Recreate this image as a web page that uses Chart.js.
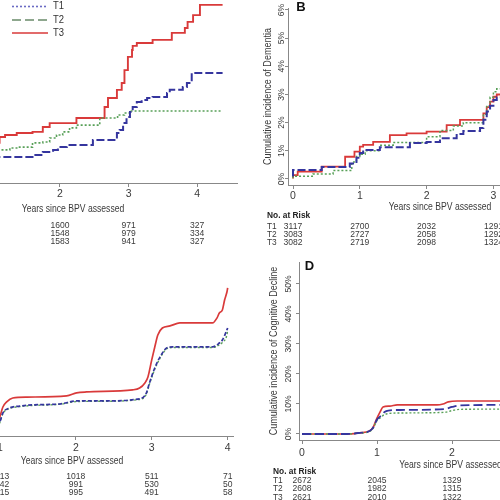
<!DOCTYPE html>
<html>
<head>
<meta charset="utf-8">
<script src="https://cdn.jsdelivr.net/npm/chart.js@4.4.0/dist/chart.umd.min.js"></script>
<style>
html, body { margin: 0; padding: 0; width: 500px; height: 500px; overflow: hidden; background: #fff; }
body { position: relative; }
canvas { position: absolute; }
</style>
</head>
<body>
<canvas id="panelA" width="400" height="260" style="left:-150px;top:-10px"></canvas>
<canvas id="panelB" width="400" height="250" style="left:250px;top:0px"></canvas>
<canvas id="panelC" width="400" height="250" style="left:-150px;top:250px"></canvas>
<canvas id="panelD" width="400" height="250" style="left:250px;top:250px"></canvas>
<script>
const groups = ['T1', 'T2', 'T3'];
const xTicks = [0, 1, 2, 3, 4];

// panel A (years, cumulative %)
const aT1x = [1.06, 1.60, 1.75, 1.90, 1.97, 2.10, 2.48, 2.83, 2.87, 2.92, 2.97, 3.02, 3.06, 3.12, 3.19, 3.27, 3.35, 3.56, 3.60, 3.79, 3.85, 3.92, 3.99, 4.37];
const aT1y = [0.60, 0.71, 0.78, 0.89, 0.96, 1.06, 1.13, 1.31, 1.56, 1.67, 1.91, 2.13, 2.30, 2.48, 2.66, 2.73, 2.80, 2.84, 2.98, 3.09, 3.19, 3.33, 3.69, 3.69];
const aT2x = [1.06, 1.27, 1.41, 1.60, 1.75, 1.85, 1.95, 2.04, 2.14, 2.24, 2.58, 2.84, 2.94, 3.02, 3.09, 4.37];
const aT2y = [0.89, 0.96, 1.03, 1.06, 1.21, 1.24, 1.38, 1.49, 1.60, 1.74, 1.84, 2.09, 2.20, 2.27, 2.34, 2.34];
const aT3x = [1.06, 1.12, 1.20, 1.37, 1.60, 1.75, 1.85, 2.24, 2.65, 2.70, 2.83, 2.90, 2.94, 2.99, 3.05, 3.06, 3.12, 3.35, 3.63, 3.82, 3.86, 3.94, 4.04, 4.11, 4.37];
const aT3y = [1.10, 1.21, 1.42, 1.49, 1.56, 1.60, 1.77, 1.91, 2.09, 2.48, 2.80, 3.09, 3.33, 3.79, 4.26, 4.50, 4.65, 4.75, 4.86, 5.11, 5.28, 5.50, 5.74, 6.10, 6.10];
const aRiskYears = [2, 3, 4];
const aRiskT1 = [1600, 971, 327];
const aRiskT2 = [1548, 979, 334];
const aRiskT3 = [1583, 941, 327];

// panel B - dementia
const bT1x = [0, 0.43, 0.85, 0.95, 1.0, 1.05, 1.30, 1.75, 2.0, 2.2, 2.45, 2.55, 2.8, 2.85, 2.9, 2.95, 3.0, 3.05, 3.1];
const bT1y = [0.09, 0.32, 0.43, 0.55, 0.75, 0.92, 1.03, 1.13, 1.28, 1.31, 1.45, 1.60, 1.70, 1.81, 2.1, 2.4, 2.6, 2.8, 2.9];
const bT2x = [0, 0.3, 0.6, 0.88, 0.95, 1.0, 1.08, 1.3, 1.5, 2.0, 2.2, 2.4, 2.55, 2.85, 2.9, 2.95, 3.0, 3.05, 3.1];
const bT2y = [0.03, 0.1, 0.18, 0.3, 0.6, 0.8, 0.88, 1.0, 1.2, 1.3, 1.5, 1.72, 1.88, 2.0, 2.3, 2.6, 2.9, 3.1, 3.2];
const bT3x = [0, 0.07, 0.43, 0.78, 0.92, 1.0, 1.05, 1.2, 1.45, 1.7, 2.0, 2.3, 2.5, 2.85, 2.9, 2.95, 3.0, 3.05, 3.1];
const bT3y = [0.02, 0.14, 0.26, 0.44, 0.79, 0.97, 1.15, 1.21, 1.32, 1.56, 1.62, 1.68, 1.91, 2.1, 2.33, 2.55, 2.75, 2.92, 3.0];
const bYTicks = [0, 1, 2, 3, 4, 5, 6];
const bRiskYears = [0, 1, 2, 3];
const bRiskT1 = [3117, 2700, 2032, 1291];
const bRiskT2 = [3083, 2727, 2058, 1292];
const bRiskT3 = [3082, 2719, 2098, 1324];

// panel C
const cT1x = [0.97, 1.00, 1.04, 1.13, 1.26, 1.43, 1.79, 2.01, 2.32, 2.84, 2.93, 2.97, 3.04, 3.11, 3.20, 3.28, 3.80, 3.89, 3.93, 3.99, 4.00];
const cT1y = [0.5, 2.0, 5.0, 6.7, 7.3, 7.7, 8.0, 9.0, 9.0, 9.7, 11.7, 15.0, 20.0, 23.7, 26.7, 27.0, 27.0, 28.3, 29.3, 32.7, 33.3];
const cT2x = [0.97, 1.00, 1.04, 1.13, 1.26, 1.43, 1.79, 2.01, 2.32, 2.84, 2.93, 2.97, 3.04, 3.11, 3.20, 3.28, 3.80, 3.89, 3.93, 3.99, 4.00];
const cT2y = [0.4, 1.8, 4.8, 6.5, 7.1, 7.5, 7.9, 8.8, 8.9, 9.5, 11.3, 14.6, 19.6, 23.3, 26.4, 26.8, 26.8, 27.7, 28.5, 31.0, 32.7];
const cT3x = [0.97, 1.00, 1.04, 1.09, 1.17, 1.36, 1.88, 2.01, 2.14, 2.75, 2.84, 2.91, 2.95, 3.00, 3.04, 3.08, 3.14, 3.24, 3.37, 3.80, 3.86, 3.89, 3.93, 3.96, 3.99, 4.00];
const cT3y = [1.5, 3.7, 7.0, 8.7, 10.0, 10.3, 10.7, 11.7, 12.0, 12.7, 13.3, 15.0, 17.0, 22.7, 27.0, 31.0, 33.3, 34.0, 35.0, 35.0, 36.7, 38.3, 39.3, 42.7, 45.3, 46.7];
const cRiskYears = [1, 2, 3, 4];
const cRiskT1 = [1713, 1018, 511, 71];
const cRiskT2 = [1742, 991, 530, 50];
const cRiskT3 = [1715, 995, 491, 58];

// panel D - cognitive decline
const dT1x = [0, 0.6, 0.77, 0.9, 0.95, 1.0, 1.05, 1.1, 1.15, 1.3, 1.9, 2.0, 2.1, 2.7];
const dT1y = [0, 0, 0.4, 1.0, 2.2, 4.8, 6.0, 7.3, 7.8, 8.0, 8.3, 9.0, 9.5, 9.7];
const dT2x = [0, 0.6, 0.77, 0.9, 0.95, 1.0, 1.05, 1.1, 1.15, 1.3, 1.9, 2.0, 2.1, 2.7];
const dT2y = [0, 0, 0.3, 0.8, 2.0, 4.5, 5.5, 6.5, 6.8, 7.0, 7.2, 7.8, 8.2, 8.3];
const dT3x = [0, 0.6, 0.77, 0.9, 0.95, 1.0, 1.04, 1.08, 1.17, 1.27, 1.8, 1.88, 1.95, 2.07, 2.7];
const dT3y = [0, 0, 0.4, 1.0, 2.3, 5.3, 7.3, 9.0, 9.3, 9.7, 9.7, 10.0, 10.7, 11.0, 11.0];
const dYTicks = [0, 10, 20, 30, 40, 50];
const dRiskYears = [0, 1, 2];
const dRiskT1 = [2672, 2045, 1329];
const dRiskT2 = [2608, 1982, 1315];
const dRiskT3 = [2621, 2010, 1322];

const FONT = '"Liberation Sans", Arial, sans-serif';
const lineColors = ['#35359e', '#58a058', '#d93a3a'];

function squeezeText(ctx, str, x, y, font, align, rot, sq)
{
    ctx.save();
    ctx.translate(x, y);
    if (rot) ctx.rotate(rot);
    ctx.scale(sq || 0.88, 1);
    ctx.font = font;
    ctx.textAlign = align || 'center';
    ctx.textBaseline = 'middle';
    ctx.fillText(str, 0, 0);
    ctx.restore();
}

// titles, y labels, risk table and legend
const panelText = {
    id: 'panelText',
    afterDraw(chart, args, o)
    {
        const ctx = chart.ctx;
        const area = chart.chartArea;
        const xs = chart.scales.x, ys = chart.scales.y;
        ctx.save();
        ctx.fillStyle = '#3a3a3a';
        squeezeText(ctx, 'Years since BPV assessed', (area.left + area.right) / 2, area.bottom + o.titleDy, '10.5px ' + FONT, 'center', 0, 0.82);
        if (o.yTicks)
        {
            o.yTicks.forEach(v => squeezeText(ctx, v + '%', area.left + o.yLabelDx, ys.getPixelForValue(v), '9.5px ' + FONT, 'center', -Math.PI / 2, 0.9));
            squeezeText(ctx, o.yTitle, area.left + o.yTitleDx, (area.top + area.bottom) / 2, '10.5px ' + FONT, 'center', -Math.PI / 2, 0.86);
        }
        if (o.letter)
        {
            ctx.fillStyle = '#111';
            squeezeText(ctx, o.letter, area.left + o.letterDx, area.top + o.letterDy, 'bold 13px ' + FONT, 'center', 0, 1);
        }
        ctx.fillStyle = '#222';
        if (o.riskHeadDy) squeezeText(ctx, 'No. at Risk', area.left + o.rowLabelDx, area.bottom + o.riskHeadDy, 'bold 9.5px ' + FONT, 'left', 0, 0.88);
        ctx.fillStyle = '#3a3a3a';
        groups.forEach((g, i) =>
        {
            squeezeText(ctx, g, area.left + o.rowLabelDx, area.bottom + o.riskDy[i], '9.5px ' + FONT, 'left', 0, 0.88);
            o.riskYears.forEach((yr, j) =>
            {
                squeezeText(ctx, String(o.risk[i][j]), xs.getPixelForValue(yr), area.bottom + o.riskDy[i], '9.5px ' + FONT, 'center', 0, 0.9);
            });
        });
        if (o.legend)
        {
            const lx = area.left + o.legend.dx;
            groups.forEach((g, i) =>
            {
                const ly = area.top + o.legend.dy[i];
                ctx.save();
                ctx.strokeStyle = o.legend.colors[i];
                ctx.lineWidth = 1.6;
                ctx.setLineDash(o.legend.dash[i]);
                ctx.beginPath();
                ctx.moveTo(lx, ly);
                ctx.lineTo(lx + 36, ly);
                ctx.stroke();
                ctx.restore();
                ctx.fillStyle = '#333';
                squeezeText(ctx, g, lx + 41, ly, '10.5px ' + FONT, 'left', 0, 0.9);
            });
        }
        ctx.restore();
    }
};

function makeSets(xs, ys, stepped, dashes, widths)
{
    return groups.map((g, i) => ({
        label: g,
        data: xs[i].map((v, k) => ({ x: v, y: ys[i][k] })),
        borderColor: lineColors[i],
        borderWidth: widths[i],
        borderDash: dashes[i],
        stepped: stepped ? 'after' : false,
        cubicInterpolationMode: stepped ? 'default' : 'monotone',
        pointRadius: 0,
        fill: false
    }));
}

function makePanel(id, sets, xRange, yRange, box, text, yTicks)
{
    return new Chart(document.getElementById(id), {
        type: 'line',
        data: { datasets: sets },
        options: {
            responsive: false,
            animation: false,
            devicePixelRatio: 1,
            events: [],
            layout: { padding: box.pad },
            plugins: { legend: { display: false }, tooltip: { enabled: false }, panelText: text },
            scales: {
                x: {
                    type: 'linear', min: xRange[0], max: xRange[1],
                    afterBuildTicks: s => { s.ticks = xTicks.map(v => ({ value: v })); },
                    afterFit: s => { s.height = box.xH; },
                    grid: { drawOnChartArea: false, tickLength: 4, color: '#888' },
                    border: { color: '#888' },
                    ticks: { font: { size: 10.5, family: FONT }, color: '#3a3a3a', padding: box.tickPad, autoSkip: false, maxRotation: 0 }
                },
                y: {
                    type: 'linear', min: yRange[0], max: yRange[1],
                    afterBuildTicks: s => { s.ticks = (yTicks || []).map(v => ({ value: v })); },
                    afterFit: s => { s.width = box.yW; },
                    grid: { drawOnChartArea: false, tickLength: 3, color: '#888' },
                    border: { color: '#888' },
                    ticks: { display: false }
                }
            }
        },
        plugins: [panelText]
    });
}

const dashDotSolid = [[8, 3], [2, 2], []];

makePanel('panelA',
    makeSets([aT1x, aT2x, aT3x], [aT1y, aT2y, aT3y], true, dashDotSolid, [2, 1.6, 1.9]),
    [-0.2, 4.58], [-0.213, 6.31],
    { pad: { left: 19, right: 13, top: 9, bottom: 0 }, xH: 67, yW: 40, tickPad: 1 },
    { titleDy: 26, riskDy: [42.5, 50.5, 58.5], riskYears: aRiskYears, risk: [aRiskT1, aRiskT2, aRiskT3], rowLabelDx: -21,
      legend: { dx: 103, dy: [7.5, 21, 34], colors: ['#6b6bc4', '#6a8a6a', '#d93a3a'], dash: [[2, 2], [9, 4], []] } },
    null);

makePanel('panelB',
    makeSets([bT1x, bT2x, bT3x], [bT1y, bT2y, bT3y], true, dashDotSolid, [2, 1.5, 1.8]),
    [-0.075, 4.476], [-0.213, 6.07],
    { pad: { left: 8, right: 58, top: 8, bottom: 0 }, xH: 65, yW: 30, tickPad: 1 },
    { titleDy: 22, riskHeadDy: 30, riskDy: [41, 49, 57], riskYears: bRiskYears, risk: [bRiskT1, bRiskT2, bRiskT3], rowLabelDx: -21,
      yTicks: bYTicks, yLabelDx: -7, yTitle: 'Cumulative incidence of Dementia', yTitleDx: -20, letter: 'B', letterDx: 13, letterDy: -0.5 },
    bYTicks);

makePanel('panelC',
    makeSets([cT1x, cT2x, cT3x], [cT1y, cT2y, cT3y], false, [[4, 2], [2, 2], []], [1.7, 1.4, 1.7]),
    [-0.17, 4.07], [-2.67, 55.3],
    { pad: { left: 21, right: 17, top: 12, bottom: 0 }, xH: 64, yW: 40, tickPad: 2 },
    { titleDy: 25, riskDy: [40.5, 48.5, 56.5], riskYears: cRiskYears, risk: [cRiskT1, cRiskT2, cRiskT3], rowLabelDx: -26 },
    null);

makePanel('panelD',
    makeSets([dT1x, dT2x, dT3x], [dT1y, dT2y, dT3y], false, [[9, 4], [2, 2], []], [1.8, 1.4, 1.7]),
    [-0.04, 4.0], [-2, 57.3],
    { pad: { left: 9, right: 48, top: 12, bottom: 0 }, xH: 60, yW: 40, tickPad: 3 },
    { titleDy: 25, riskHeadDy: 31, riskDy: [40, 48, 57], riskYears: dRiskYears, risk: [dRiskT1, dRiskT2, dRiskT3], rowLabelDx: -26,
      yTicks: dYTicks, yLabelDx: -11, yTitle: 'Cumulative incidence of Cognitive Decline', yTitleDx: -25, letter: 'D', letterDx: 10.5, letterDy: 4.5 },
    dYTicks);
</script>
</body>
</html>
